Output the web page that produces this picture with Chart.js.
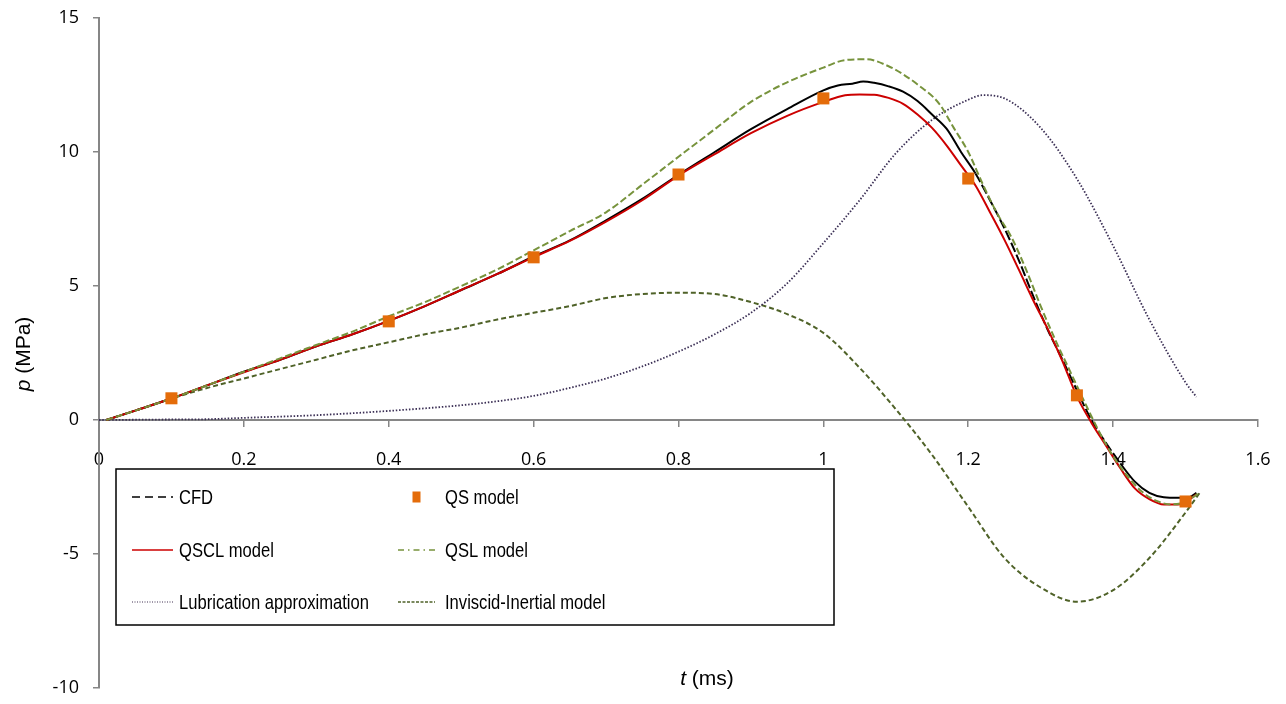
<!DOCTYPE html>
<html>
<head>
<meta charset="utf-8">
<script src="https://cdn.jsdelivr.net/npm/chart.js@4"></script>
<style>
  body { margin: 0; background: #fff; }
</style>
</head>
<body>
<canvas id="chart" width="1286" height="704"></canvas>

<script>
// Pressure history p (MPa) against time t (ms) for each model
const cfdT = [0.01, 0.05, 0.1, 0.15, 0.2, 0.25, 0.3, 0.35, 0.4, 0.45, 0.5, 0.55, 0.6, 0.65, 0.7, 0.75, 0.8, 0.85, 0.9, 0.95, 1.0, 1.02, 1.04, 1.055, 1.07, 1.09, 1.11, 1.13, 1.15, 1.17, 1.19, 1.21, 1.23, 1.25, 1.27, 1.29, 1.31, 1.33, 1.35, 1.37, 1.39, 1.41, 1.43, 1.45, 1.47, 1.49, 1.505, 1.515];
const cfdP = [0, 0.35, 0.8, 1.3, 1.8, 2.25, 2.75, 3.2, 3.7, 4.25, 4.85, 5.45, 6.1, 6.7, 7.45, 8.25, 9.15, 10.0, 10.85, 11.6, 12.3, 12.48, 12.55, 12.63, 12.58, 12.45, 12.25, 11.9, 11.4, 10.87, 10.0, 9.2, 8.2, 7.15, 5.95, 4.6, 3.35, 2.25, 1.11, 0.0, -0.85, -1.62, -2.3, -2.72, -2.88, -2.9, -2.88, -2.72];

const qsclT = [0.01, 0.05, 0.1, 0.15, 0.2, 0.25, 0.3, 0.35, 0.4, 0.45, 0.5, 0.55, 0.6, 0.65, 0.7, 0.75, 0.8, 0.85, 0.9, 0.95, 1.0, 1.03, 1.05, 1.07, 1.09, 1.11, 1.13, 1.15, 1.17, 1.19, 1.21, 1.23, 1.25, 1.27, 1.29, 1.31, 1.33, 1.35, 1.37, 1.39, 1.41, 1.43, 1.45, 1.47, 1.49, 1.5, 1.515];
const qsclP = [0, 0.35, 0.8, 1.3, 1.78, 2.25, 2.75, 3.2, 3.7, 4.25, 4.85, 5.45, 6.08, 6.68, 7.4, 8.2, 9.12, 9.92, 10.7, 11.35, 11.87, 12.12, 12.15, 12.14, 12.02, 11.8, 11.4, 10.9, 10.25, 9.5, 8.75, 7.75, 6.72, 5.6, 4.45, 3.38, 2.2, 0.88, -0.1, -0.95, -1.8, -2.55, -2.95, -3.15, -3.15, -3.07, -2.77];

const qslT = [0.01, 0.05, 0.1, 0.15, 0.2, 0.25, 0.3, 0.35, 0.4, 0.45, 0.5, 0.55, 0.6, 0.65, 0.7, 0.75, 0.8, 0.85, 0.9, 0.95, 1.0, 1.03, 1.06, 1.09, 1.11, 1.13, 1.16, 1.18, 1.2, 1.22, 1.24, 1.26, 1.28, 1.3, 1.32, 1.34, 1.36, 1.38, 1.4, 1.42, 1.44, 1.46, 1.48, 1.5, 1.52];
const qslP = [0, 0.35, 0.8, 1.3, 1.8, 2.3, 2.8, 3.3, 3.87, 4.4, 5.0, 5.62, 6.33, 7.05, 7.75, 8.78, 9.82, 10.85, 11.87, 12.6, 13.15, 13.43, 13.46, 13.2, 12.9, 12.52, 11.8, 10.9, 10.0, 8.8, 7.7, 6.8, 5.6, 4.25, 3.0, 1.85, 0.7, -0.4, -1.35, -2.1, -2.68, -3.02, -3.15, -3.05, -2.7];

const lubT = [0, 0.1, 0.15, 0.2, 0.3, 0.4, 0.5, 0.55, 0.6, 0.65, 0.7, 0.75, 0.8, 0.85, 0.9, 0.95, 1.0, 1.05, 1.1, 1.15, 1.2, 1.22, 1.25, 1.3, 1.35, 1.4, 1.45, 1.5, 1.515];
const lubP = [0, 0.02, 0.03, 0.08, 0.18, 0.34, 0.55, 0.7, 0.9, 1.2, 1.55, 2.0, 2.55, 3.2, 4.0, 5.1, 6.6, 8.2, 9.95, 11.2, 11.95, 12.12, 12.0, 10.9, 9.0, 6.5, 3.75, 1.4, 0.86];

const invT = [0.01, 0.05, 0.1, 0.15, 0.2, 0.25, 0.3, 0.35, 0.4, 0.45, 0.5, 0.55, 0.6, 0.65, 0.7, 0.75, 0.8, 0.85, 0.9, 0.95, 1.0, 1.05, 1.1, 1.15, 1.2, 1.25, 1.3, 1.35, 1.4, 1.45, 1.5, 1.52];
const invP = [0, 0.35, 0.8, 1.2, 1.55, 1.9, 2.25, 2.6, 2.9, 3.2, 3.45, 3.75, 4.0, 4.25, 4.55, 4.7, 4.75, 4.7, 4.4, 3.95, 3.25, 1.95, 0.4, -1.3, -3.24, -5.15, -6.25, -6.78, -6.35, -5.15, -3.45, -2.7];

// QS model discrete results
const qsT = [0.1, 0.4, 0.6, 0.8, 1.0, 1.2, 1.35, 1.5];
const qsP = [0.81, 3.68, 6.07, 9.16, 12.0, 9.01, 0.92, -3.04];

const xTicks = [0, 0.2, 0.4, 0.6, 0.8, 1, 1.2, 1.4, 1.6];
const yTicks = [-10, -5, 0, 5, 10, 15];

const toPoints = (t, p) => t.map((x, i) => ({ x: x, y: p[i] }));

const axisGrey = '#868686';
// no narrow face installed, so the legend text is squeezed horizontally
const legendFont = "21px 'Liberation Sans', Arial, sans-serif";
const legendSqueeze = 0.79;

// Legend entries, drawn in a box inside the plot area
const legendItems = [
  { label: 'CFD', color: '#000000', dash: [8, 5], width: 1.5 },
  { label: 'QS model', color: '#E46C0A', marker: true },
  { label: 'QSCL model', color: '#CC0000', dash: [], width: 1.5 },
  { label: 'QSL model', color: '#77933C', dash: [6, 4, 1.5, 4], width: 1.5 },
  { label: 'Lubrication approximation', color: '#403152', dash: [1, 1.5], width: 1.2 },
  { label: 'Inviscid-Inertial model', color: '#4F6228', dash: [3, 1.5], width: 1.5 }
];

const boxLegend = {
  id: 'boxLegend',
  afterDatasetsDraw(chart) {
    const ctx = chart.ctx;
    const left = 116, top = 469, right = 834, bottom = 625;
    ctx.save();
    ctx.fillStyle = '#fff';
    ctx.fillRect(left, top, right - left, bottom - top);
    ctx.strokeStyle = '#000';
    ctx.lineWidth = 1.5;
    ctx.strokeRect(left, top, right - left, bottom - top);

    const rows = [497, 550, 602];
    const cols = [{ x0: 132, x1: 173, tx: 179 }, { x0: 398, x1: 435, tx: 445 }];
    ctx.font = legendFont;
    ctx.textBaseline = 'middle';
    legendItems.forEach((item, i) => {
      const c = cols[i % 2];
      const y = rows[Math.floor(i / 2)];
      if (item.marker) {
        ctx.fillStyle = item.color;
        ctx.fillRect((c.x0 + c.x1) / 2 - 4, y - 5.5, 8, 11);
      } else {
        ctx.strokeStyle = item.color;
        ctx.lineWidth = item.width;
        ctx.setLineDash(item.dash);
        ctx.beginPath();
        ctx.moveTo(c.x0, y);
        ctx.lineTo(c.x1, y);
        ctx.stroke();
        ctx.setLineDash([]);
      }
      ctx.save();
      ctx.translate(c.tx, y + 1);
      ctx.scale(legendSqueeze, 1);
      ctx.fillStyle = '#000';
      ctx.fillText(item.label, 0, 0);
      ctx.restore();
    });
    ctx.restore();
  }
};

// Axis titles with italic variable names
const axisTitles = {
  id: 'axisTitles',
  afterDraw(chart) {
    const ctx = chart.ctx;
    ctx.save();
    ctx.fillStyle = '#000';
    ctx.textBaseline = 'middle';

    const italic = "italic 21px 'Liberation Sans', Arial, sans-serif";
    const normal = "21px 'Liberation Sans', Arial, sans-serif";

    // x title
    ctx.font = italic;
    const wt = ctx.measureText('t').width;
    ctx.font = normal;
    const wr = ctx.measureText(' (ms)').width;
    let x = 707 - (wt + wr) / 2;
    ctx.textAlign = 'left';
    ctx.font = italic;
    ctx.fillText('t', x, 679);
    ctx.font = normal;
    ctx.fillText(' (ms)', x + wt, 679);

    // y title
    ctx.translate(24, 354);
    ctx.rotate(-Math.PI / 2);
    ctx.font = italic;
    const wp = ctx.measureText('p').width;
    ctx.font = normal;
    const wu = ctx.measureText(' (MPa)').width;
    x = -(wp + wu) / 2;
    ctx.font = italic;
    ctx.fillText('p', x, 0);
    ctx.font = normal;
    ctx.fillText(' (MPa)', x + wp, 0);
    ctx.restore();
  }
};

const line = (label, t, p, color, width, dash, order, extra) => Object.assign({
  label: label,
  data: toPoints(t, p),
  showLine: true,
  borderColor: color,
  backgroundColor: color,
  borderWidth: width,
  borderDash: dash,
  pointRadius: 0,
  cubicInterpolationMode: 'monotone',
  order: order
}, extra || {});

const ctx = document.getElementById('chart').getContext('2d');
new Chart(ctx, {
  type: 'scatter',
  data: {
    datasets: [
      {
        label: 'QS model',
        data: toPoints(qsT, qsP),
        pointStyle: 'rect',
        pointRadius: 8.5,
        pointBackgroundColor: '#E46C0A',
        pointBorderWidth: 0,
        order: 0
      },
      line('QSL model', qslT, qslP, '#77933C', 2, [7, 3], 1),
      line('QSCL model', qsclT, qsclP, '#CC0000', 2, [], 2),
      line('CFD', cfdT, cfdP, '#000000', 2, [], 3, {
        // the dashes only open up on the steep falling part
        segment: {
          borderDash: c => (c.p0.parsed.x >= 1.21 && c.p0.parsed.x < 1.4) ? [10, 3] : undefined
        }
      }),
      line('Lubrication approximation', lubT, lubP, '#3B2F55', 1.8, [1.5, 1.8], 4),
      line('Inviscid-Inertial model', invT, invP, '#4F6228', 2, [5, 3], 5)
    ]
  },
  options: {
    responsive: false,
    animation: false,
    devicePixelRatio: 1,
    layout: { padding: { left: 0, right: 28, top: 18, bottom: 16 } },
    scales: {
      x: {
        type: 'linear',
        position: { y: 0 },
        min: 0,
        max: 1.6,
        afterBuildTicks: scale => { scale.ticks = xTicks.map(v => ({ value: v })); },
        afterFit: scale => {
          scale.paddingLeft = 0;
          scale.paddingRight = 0;
        },
        ticks: {
          color: '#000',
          font: { family: "'Open Sans', sans-serif", size: 18 },
          padding: 23,
          maxRotation: 0,
          callback: v => String(v)
        },
        grid: { drawOnChartArea: false, drawTicks: true, tickLength: 6, color: axisGrey, lineWidth: 1.5 },
        border: { color: axisGrey, width: 2 }
      },
      y: {
        type: 'linear',
        position: 'left',
        min: -10,
        max: 15,
        afterBuildTicks: scale => { scale.ticks = yTicks.map(v => ({ value: v })); },
        afterFit: scale => {
          scale.width = 99;
          scale.paddingTop = 0;
          scale.paddingBottom = 0;
        },
        ticks: {
          color: '#000',
          font: { family: "'Open Sans', sans-serif", size: 18 },
          padding: 14,
          callback: v => String(v)
        },
        grid: { drawOnChartArea: false, drawTicks: true, tickLength: 6, color: axisGrey, lineWidth: 1.5 },
        border: { color: axisGrey, width: 2 }
      }
    },
    plugins: {
      legend: { display: false },
      tooltip: { enabled: false }
    }
  },
  plugins: [boxLegend, axisTitles]
});
</script>
</body>
</html>
